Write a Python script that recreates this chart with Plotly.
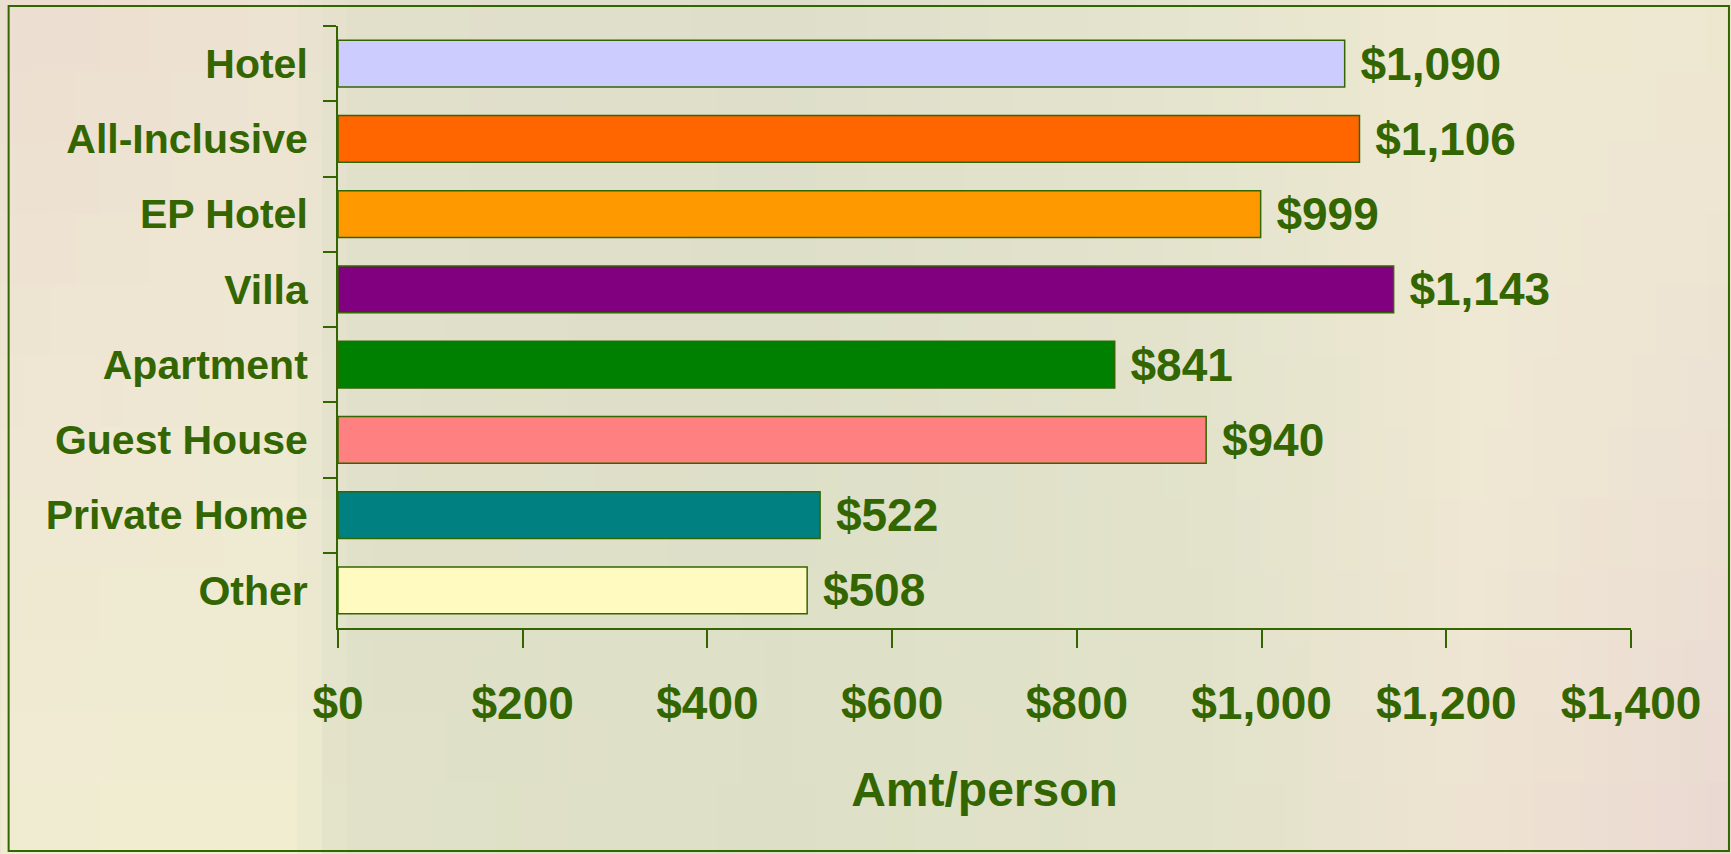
import plotly.graph_objects as go
import numpy as np

# ---------------- data ----------------
categories = ["Hotel", "All-Inclusive", "EP Hotel", "Villa", "Apartment",
              "Guest House", "Private Home", "Other"]
amounts = [1090, 1106, 999, 1143, 841, 940, 522, 508]
bar_colors = ["#CCCCFF", "#FF6600", "#FF9900", "#800080", "#008000",
              "#FF8080", "#008080", "#FFFBC0"]
x_tick_values = [0, 200, 400, 600, 800, 1000, 1200, 1400]
x_tick_labels = ["$0", "$200", "$400", "$600", "$800", "$1,000", "$1,200", "$1,400"]
axis_title = "Amt/person"

# ---------------- style ----------------
W, H = 1731, 854
L, R, T, B = 337.5, 100, 26, 226
GREEN = "#336600"
FONT = "Liberation Sans, Arial, sans-serif"
PW = W - L - R
PH = H - T - B


def px_x(px):
    return (px - L) / PW


def px_y(py):
    return (H - B - py) / PH


def hex2rgb(h):
    h = h.lstrip("#")
    return np.array([int(h[i:i + 2], 16) for i in (0, 2, 4)], dtype=float)


# background gradient control points (x fraction, [top, mid, bottom])
ctrl_x = [0.0, 0.17, 0.2, 0.45, 0.7, 0.85, 1.0]
ctrl_cols = [
    ["#ECDDD0", "#EFE6D3", "#F0EDD2"],
    ["#EDE3D2", "#EEE9D3", "#F0EDD0"],
    ["#E2E0CB", "#E1E0CA", "#E0E1C8"],
    ["#DEDECB", "#DEDFC8", "#DDE0C6"],
    ["#E6E5CF", "#E3E3CC", "#E2E2CA"],
    ["#EEE9D2", "#EFE8D3", "#EEE3D2"],
    ["#EEE7D0", "#EDE2D4", "#EAD8D2"],
]
ctrl_rgb = np.array([[hex2rgb(c) for c in col] for col in ctrl_cols])  # (nx,3,3)

shapes = []
NX, NY = 70, 12
for i in range(NX):
    fx = (i + 0.5) / NX
    rows = np.array([[np.interp(fx, ctrl_x, ctrl_rgb[:, r, k]) for k in range(3)] for r in range(3)])
    for j in range(NY):
        fy = (j + 0.5) / NY
        col = np.array([np.interp(fy, [0, 0.5, 1], rows[:, k]) for k in range(3)])
        x0p = i * W / NX
        x1p = (i + 1) * W / NX + 1
        y0p = j * H / NY
        y1p = (j + 1) * H / NY + 1
        shapes.append(dict(
            type="rect", xref="paper", yref="paper", layer="below",
            x0=px_x(x0p), x1=px_x(x1p), y0=px_y(y1p), y1=px_y(y0p),
            line=dict(width=0),
            fillcolor="rgb(%d,%d,%d)" % tuple(int(round(v)) for v in col),
        ))

# outer border
shapes.append(dict(
    type="rect", xref="paper", yref="paper", layer="above",
    x0=px_x(8), x1=px_x(1729), y0=px_y(851), y1=px_y(6),
    line=dict(color=GREEN, width=2), fillcolor="rgba(0,0,0,0)",
))

value_texts = ["\u00a0$" + f"{v:,}" for v in amounts]

fig = go.Figure()
fig.add_trace(go.Bar(
    y=categories,
    x=amounts,
    orientation="h",
    marker=dict(color=bar_colors, line=dict(color=GREEN, width=1.5)),
    text=value_texts,
    textposition="outside",
    textfont=dict(family=FONT, size=46, color=GREEN, weight="bold"),
    constraintext="none",
    cliponaxis=False,
    hoverinfo="skip",
))

fig.update_layout(
    width=W, height=H,
    margin=dict(l=L, r=R, t=T, b=B, autoexpand=False),
    paper_bgcolor="#E6E3CD",
    plot_bgcolor="rgba(0,0,0,0)",
    bargap=0.38,
    showlegend=False,
    shapes=shapes,
    font=dict(family=FONT, color=GREEN),
)

fig.update_yaxes(
    type="category",
    categoryorder="array",
    categoryarray=categories,
    autorange="reversed",
    showline=True, linecolor=GREEN, linewidth=2,
    ticks="outside", ticklen=13, tickwidth=2, tickcolor=GREEN,
    tickson="boundaries",
    showgrid=False, zeroline=False,
    tickfont=dict(family=FONT, size=41, color=GREEN, weight="bold"),
    ticklabelstandoff=20,
)

fig.update_xaxes(
    range=[0, 1400],
    tickvals=x_tick_values,
    ticktext=x_tick_labels,
    showline=True, linecolor=GREEN, linewidth=2,
    ticks="outside", ticklen=18, tickwidth=2, tickcolor=GREEN,
    showgrid=False, zeroline=False,
    tickfont=dict(family=FONT, size=46, color=GREEN, weight="bold"),
    ticklabelstandoff=16,
    title=dict(text=axis_title, standoff=44,
               font=dict(family=FONT, size=48, color=GREEN, weight="bold")),
)

fig.write_html(
    "out.html",
    config={"displayModeBar": False},
    post_script="document.body.style.margin='0';document.body.style.overflow='hidden';",
)
